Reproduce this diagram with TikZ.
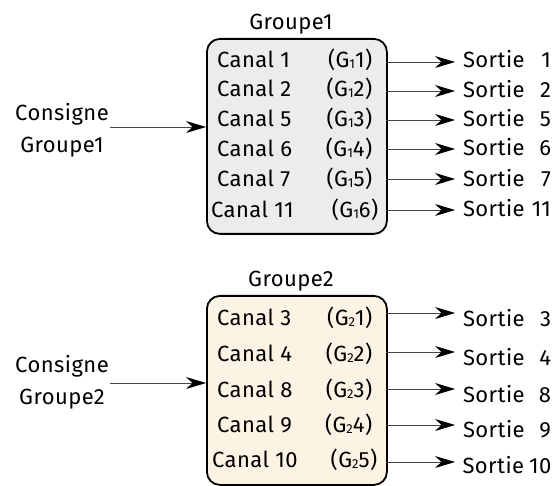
\documentclass[tikz,border=0pt]{standalone}
\usepackage{fontspec}
\setmainfont{Fira Sans}[LetterSpace=2]
\usetikzlibrary{arrows.meta}
\definecolor{gfill}{RGB}{236,236,236}
\definecolor{cfill}{RGB}{253,243,228}
\definecolor{lgray}{RGB}{70,70,70}
\newcommand\gsub[1]{\raisebox{-1pt}{\fontsize{13}{13}\selectfont #1}}
\newcommand\canalrow[3]{\makebox[#1pt]{Canal #2\hfill(G#3)}}
\newcommand\sortierow[1]{\makebox[88pt]{Sortie\hspace{5pt}\hfill #1}}
\begin{document}
\begin{tikzpicture}[x=1pt,y=-1pt,
  txt/.style={inner sep=0pt, font=\fontsize{22}{26}\selectfont, anchor=base west},
  outtxt/.style={txt, outer xsep=8pt},
  title/.style={inner sep=0pt, font=\fontsize{22}{26}\selectfont, anchor=base},
  consigne/.style={inner sep=0pt, font=\fontsize{22}{32}\selectfont, align=center},
  group/.style={draw=black, line width=1.8pt, rounded corners=13pt, minimum width=180pt, anchor=north west, inner sep=0pt},
  conn/.style={draw=lgray, line width=0.8pt, -{Stealth[length=20pt,width=12pt,black]}}
]
\useasboundingbox (0,0) rectangle (554,486);

% ---------- Group 1 ----------
\node[group, fill=gfill, minimum height=195pt] (box1) at (206,38) {};
\node[title] (t1) at (291,30) {Groupe1};
\node[txt] (r11) at (217,68) {\canalrow{155}{1}{\gsub{1}1}};
\node[txt] (r12) at (217,97) {\canalrow{155}{2}{\gsub{1}2}};
\node[txt] (r13) at (217,127) {\canalrow{155}{5}{\gsub{1}3}};
\node[txt] (r14) at (217,157) {\canalrow{155}{6}{\gsub{1}4}};
\node[txt] (r15) at (217,187) {\canalrow{155}{7}{\gsub{1}5}};
\node[txt] (r16) at (211,218) {\canalrow{167}{11}{\gsub{1}6}};

\node[outtxt] (s11) at (455,68) {\sortierow{1}};
\node[outtxt] (s12) at (455,98) {\sortierow{2}};
\node[outtxt] (s13) at (455,127) {\sortierow{5}};
\node[outtxt] (s14) at (455,156) {\sortierow{6}};
\node[outtxt] (s15) at (455,187) {\sortierow{7}};
\node[outtxt] (s16) at (455,217) {\sortierow{11}};

\coordinate (p11) at (386,62);
\coordinate (p12) at (386,91);
\coordinate (p13) at (386,120);
\coordinate (p14) at (386,149);
\coordinate (p15) at (386,179);
\coordinate (p16) at (386,210);
\foreach \i in {1,...,6}{\draw[conn] (p1\i) -- (p1\i -| s1\i.west);}

\node[consigne] (c1) at (62,130) {Consigne\\Groupe1};
\coordinate (ci1) at (110,127);
\draw[conn] (ci1) -- (ci1 -| box1.west);

% ---------- Group 2 ----------
\node[group, fill=cfill, minimum height=189pt] (box2) at (206,295) {};
\node[title] (t2) at (291,287) {Groupe2};
\node[txt] (r21) at (217,325) {\canalrow{155}{3}{\gsub{2}1}};
\node[txt] (r22) at (217,361) {\canalrow{155}{4}{\gsub{2}2}};
\node[txt] (r23) at (217,397) {\canalrow{155}{8}{\gsub{2}3}};
\node[txt] (r24) at (217,432) {\canalrow{155}{9}{\gsub{2}4}};
\node[txt] (r25) at (212,467) {\canalrow{165}{10}{\gsub{2}5}};

\node[outtxt] (s21) at (455,326) {\sortierow{3}};
\node[outtxt] (s22) at (455,365) {\sortierow{4}};
\node[outtxt] (s23) at (455,402) {\sortierow{8}};
\node[outtxt] (s24) at (455,437) {\sortierow{9}};
\node[outtxt] (s25) at (455,473) {\sortierow{10}};

\coordinate (p21) at (386,313);
\coordinate (p22) at (386,352);
\coordinate (p23) at (386,389);
\coordinate (p24) at (386,425);
\coordinate (p25) at (386,462);
\foreach \i in {1,...,5}{\draw[conn] (p2\i) -- (p2\i -| s2\i.west);}

\node[consigne] (c2) at (62,382) {Consigne\\Groupe2};
\coordinate (ci2) at (110,383);
\draw[conn] (ci2) -- (ci2 -| box2.west);
\end{tikzpicture}
\end{document}
